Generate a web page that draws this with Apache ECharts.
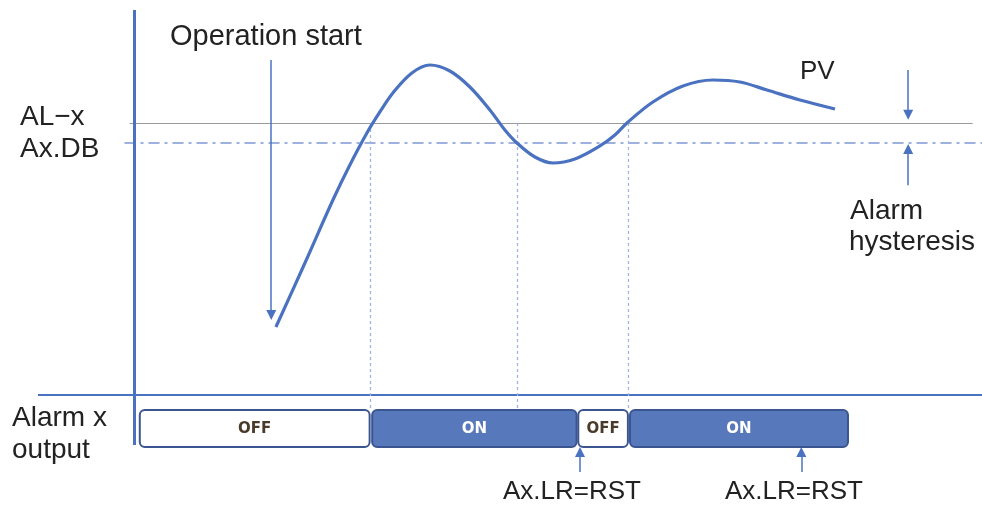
<!DOCTYPE html>
<html><head><meta charset="utf-8">
<script src="https://cdn.jsdelivr.net/npm/echarts@6/dist/echarts.min.js"></script>
<style>html,body{margin:0;padding:0;background:#fff}#c{width:982px;height:507px}</style>
</head><body><div id="c"></div>
<script>
// PV curve (time vs process value, arbitrary units)
const pvTime  = [16.75,20.17,23.47,25.47,27.48,29.01,30.54,32.78,34.91,37.26,39.62,41.98,43.75,45.17,47.29,49.41,52.00,54.95,56.72,58.14,61.20,64.74,68.28,71.46,74.65,78.54,82.67];
const pvValue = [17.66,34.29,50.65,59.74,68.05,73.51,78.44,83.64,85.71,84.16,80.00,74.03,68.83,65.45,61.82,60.26,61.30,64.68,67.53,70.65,76.10,80.26,81.82,81.30,79.22,76.62,74.29];
// levels
const alarmLevel = 70.65;     // AL-x
const deadbandLevel = 65.45;  // Ax.DB
// alarm switching instants
const switchTimes = [27.83, 45.17, 58.25];
// alarm output segments
const outStart = [0.7, 28.1, 52.4, 58.5];
const outEnd   = [27.8, 52.2, 58.25, 84.2];
const outState = ['OFF', 'ON', 'OFF', 'ON'];
const outBand  = [-3.9, -13.5];
// annotations
const startTime = 16.2;
const resetTimes = [52.6, 78.7];
const hysTime = 91.3;

const BLUE = '#4a72c0';
const chart = echarts.init(document.getElementById('c'));
const font = '"Liberation Sans", Arial, sans-serif';

const vlines = switchTimes.map(t => [{coord:[t, alarmLevel], lineStyle:{color:'#9fb4e2', width:1.3, type:[3,3]}},{coord:[t, outBand[0]]}]);

function txt(x, y, text, size){
  return {type:'text', x:x, y:y, style:{text:text, font:size+'px '+font, fill:'#222222', verticalAlign:'middle', align:'left'}};
}

const option = {
  animation: false,
  grid: {left: 38, right: 0, top: 10, bottom: 15.75},
  xAxis: {type: 'value', min: -11.3, max: 100, show: false},
  yAxis: {type: 'value', min: -25, max: 100, show: false},
  series: [
    { type: 'line', data: pvTime.map((t,i)=>[t, pvValue[i]]), smooth: 0.35, symbol: 'none',
      lineStyle: {color: BLUE, width: 3.2}, z: 5 },
    { type: 'line', data: [], silent: true,
      markLine: { silent: true, symbol: 'none', label: {show: false}, animation: false,
        data: [
          [{coord:[-0.5, alarmLevel], lineStyle:{color:'#9a9a9a', width:1.2, type:'solid'}},{coord:[98.9, alarmLevel]}],
          [{coord:[-1.1, deadbandLevel], lineStyle:{color:'#7d97d4', width:1.5, type:[11,5,3,5]}},{coord:[100, deadbandLevel]}],
          [{coord:[-11.3, 0], lineStyle:{color:BLUE, width:2.2, type:'solid'}},{coord:[100, 0]}],
          [{coord:[0, 100], lineStyle:{color:BLUE, width:3, type:'solid'}},{coord:[0, -13]}]
        ].concat(vlines)
      }
    },
    { type: 'line', data: [], silent: true,
      markLine: { silent: true, symbol: ['none','triangle'], symbolSize: 10, label: {show:false},
        lineStyle: {color: BLUE, width: 1.5, type: 'solid'},
        data: [
          [{coord:[startTime, 87.0]},{coord:[startTime, 20.8]}],
          [{coord:[hysTime, 84.4]},{coord:[hysTime, 72.8]}],
          [{coord:[hysTime, 54.5]},{coord:[hysTime, 63.9]}],
          [{coord:[resetTimes[0], -20]},{coord:[resetTimes[0], -14.8]}],
          [{coord:[resetTimes[1], -20]},{coord:[resetTimes[1], -14.8]}]
        ]
      }
    },
    { type: 'custom', z: 6,
      data: outStart.map((s,i)=>[s, outEnd[i], outState[i] === 'ON' ? 1 : 0]),
      renderItem: function(params, api){
        const p0 = api.coord([api.value(0), outBand[0]]);
        const p1 = api.coord([api.value(1), outBand[1]]);
        const on = api.value(2) === 1;
        const w = p1[0]-p0[0], h = p1[1]-p0[1];
        return { type: 'group', children: [
          { type: 'rect', shape: {x: p0[0], y: p0[1], width: w, height: h, r: 5},
            style: {fill: on ? '#5878bc' : '#ffffff', stroke: '#3a5590', lineWidth: 2} },
          { type: 'text', style: {x: p0[0]+w/2, y: p0[1]+h/2+1, text: on ? 'ON' : 'OFF', align:'center', verticalAlign:'middle',
            fill: on ? '#ffffff' : '#4a3a2a', font: 'bold 15px "DejaVu Sans", sans-serif'} }
        ]};
      }
    }
  ],
  graphic: [
    txt(170, 37, 'Operation start', 29),
    txt(20, 117, 'AL\u2212x', 28),
    txt(20, 149, 'Ax.DB', 28),
    txt(800, 72, 'PV', 26),
    txt(850, 211, 'Alarm', 28),
    txt(849, 242, 'hysteresis', 28),
    txt(12, 418, 'Alarm x', 28),
    txt(12, 450, 'output', 28),
    txt(503, 492, 'Ax.LR=RST', 26),
    txt(725, 492, 'Ax.LR=RST', 26)
  ]
};
chart.setOption(option);
</script></body></html>
